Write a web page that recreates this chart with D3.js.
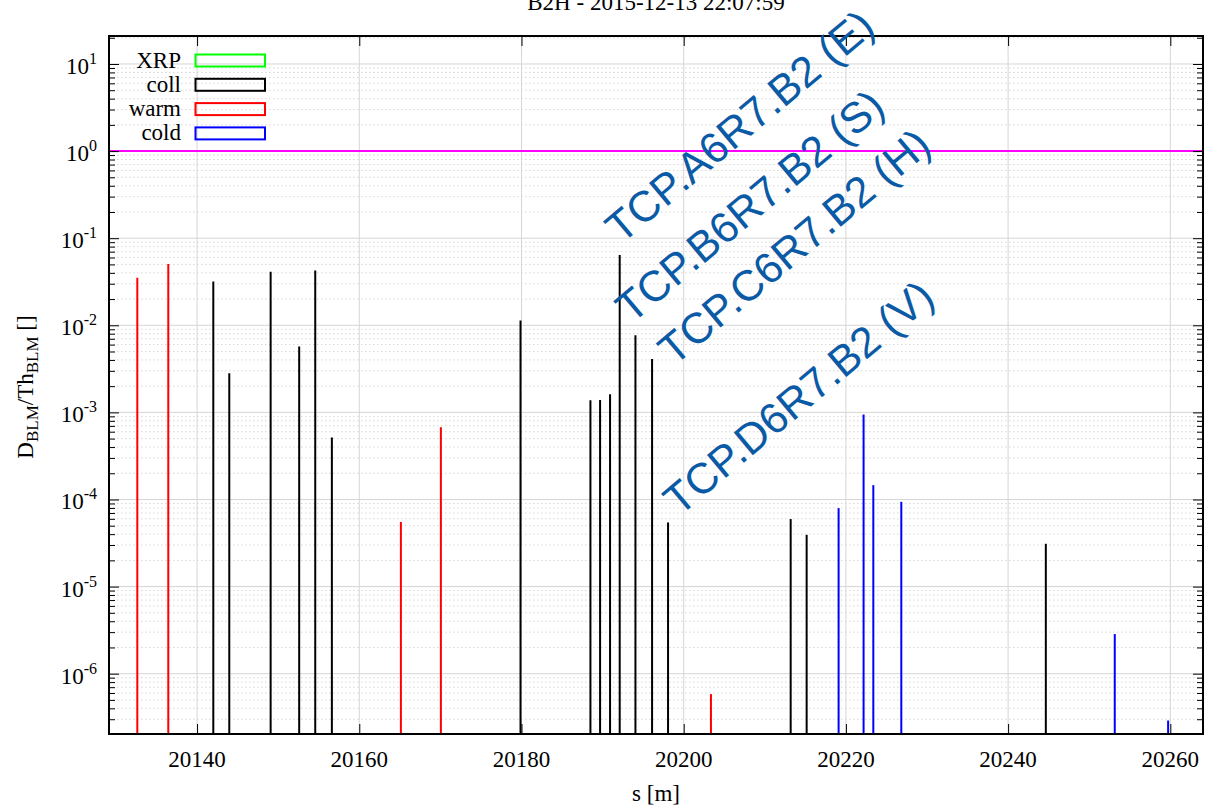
<!DOCTYPE html>
<html>
<head>
<meta charset="utf-8">
<script src="https://cdn.jsdelivr.net/npm/d3@7"></script>
<style>
  body { margin: 0; background: #fff; }
  svg { display: block; }
  .serif { font-family: "Liberation Serif", "DejaVu Serif", serif; }
  .axis path { display: none; }
  .axis line { stroke: #000; stroke-width: 1; }
</style>
</head>
<body>
<script>
// chart data
var title = "B2H - 2015-12-13 22:07:59";
var xTicks = [20140, 20160, 20180, 20200, 20220, 20240, 20260];
var yExponents = [-6, -5, -4, -3, -2, -1, 0, 1];
var threshold = 1;

var legendNames = ["XRP", "coll", "warm", "cold"];
var legendColors = ["#00ff00", "#000000", "#ff0000", "#0000ff"];

// s positions [m] and D/Th values for each BLM family
var xrpS = [];
var xrpV = [];
var collS = [20142.00, 20143.97, 20149.07, 20152.59, 20154.57, 20156.62, 20179.88, 20188.50, 20189.69,
             20190.92, 20192.11, 20194.05, 20196.10, 20198.07, 20213.19, 20215.16, 20244.65];
var collV = [0.0319, 0.00282, 0.0411, 0.00569, 0.0427, 0.000515, 0.01135, 0.00138, 0.00139,
             0.00162, 0.064, 0.0077, 0.00409, 5.45e-5, 5.96e-5, 3.93e-5, 3.10e-5];
var warmS = [20132.63, 20136.45, 20165.13, 20170.06, 20203.36];
var warmV = [0.0352, 0.0506, 5.52e-5, 6.73e-4, 5.83e-7];
var coldS = [20219.10, 20222.18, 20223.38, 20226.83, 20253.15, 20259.73];
var coldV = [7.96e-5, 9.46e-4, 1.46e-4, 9.4e-5, 2.85e-6, 2.9e-7];

// collimator annotations (anchor in data coordinates)
var labelText = ["TCP.A6R7.B2 (E)", "TCP.B6R7.B2 (S)", "TCP.C6R7.B2 (H)", "TCP.D6R7.B2 (V)"];
var labelS = [20192.3, 20193.55, 20198.8, 20199.45];
var labelV = [0.084, 0.0102, 0.00335, 6.3e-5];

// SVG area
var svgWidth = 1205;
var svgHeight = 805;
var margin = { top: 36, right: 2, bottom: 71, left: 109 };
var chartWidth = svgWidth - margin.left - margin.right;
var chartHeight = svgHeight - margin.top - margin.bottom;

var svg = d3.select("body")
  .append("svg")
  .attr("width", svgWidth)
  .attr("height", svgHeight);

var chartGroup = svg.append("g")
  .attr("transform", `translate(${margin.left}, ${margin.top})`);

var xScale = d3.scaleLinear()
  .domain([20129.14, 20264.03])
  .range([0, chartWidth]);

var yScale = d3.scaleLog()
  .domain([2.03e-7, 20.96])
  .range([chartHeight, 0])
  .clamp(true);

// minor log positions
var yMinor = [];
[-7].concat(yExponents).forEach(function(e) {
  for (var k = 2; k <= 9; k++) {
    var v = k * Math.pow(10, e);
    if (v >= yScale.domain()[0] && v <= yScale.domain()[1]) yMinor.push(v);
  }
});
var yMajor = yExponents.map(e => Math.pow(10, e));

// grid
chartGroup.append("g")
  .selectAll("line")
  .data(yMinor)
  .enter()
  .append("line")
  .attr("x1", 0).attr("x2", chartWidth)
  .attr("y1", d => yScale(d)).attr("y2", d => yScale(d))
  .attr("stroke", "#d6d6d6")
  .attr("stroke-dasharray", "1.5,2.5");

chartGroup.append("g")
  .selectAll("line")
  .data(yMajor)
  .enter()
  .append("line")
  .attr("x1", 0).attr("x2", chartWidth)
  .attr("y1", d => yScale(d)).attr("y2", d => yScale(d))
  .attr("stroke", "#d6d6d6");

chartGroup.append("g")
  .selectAll("line")
  .data(xTicks)
  .enter()
  .append("line")
  .attr("x1", d => xScale(d)).attr("x2", d => xScale(d))
  .attr("y1", 0).attr("y2", chartHeight)
  .attr("stroke", "#d6d6d6");

// threshold line
chartGroup.append("line")
  .attr("x1", 0).attr("x2", chartWidth)
  .attr("y1", yScale(threshold)).attr("y2", yScale(threshold))
  .attr("stroke", "#ff00ff")
  .attr("stroke-width", 2);

// impulses
var series = [
  { s: xrpS, v: xrpV, color: legendColors[0] },
  { s: collS, v: collV, color: legendColors[1] },
  { s: warmS, v: warmV, color: legendColors[2] },
  { s: coldS, v: coldV, color: legendColors[3] }
];
series.forEach(function(ser) {
  chartGroup.append("g")
    .selectAll("line")
    .data(ser.s.map((s, i) => ({ s: s, v: ser.v[i] })))
    .enter()
    .append("line")
    .attr("x1", d => xScale(d.s)).attr("x2", d => xScale(d.s))
    .attr("y1", chartHeight)
    .attr("y2", d => yScale(d.v))
    .attr("stroke", ser.color)
    .attr("stroke-width", 2);
});

// axes, ticks inward
chartGroup.append("g")
  .attr("class", "axis")
  .attr("transform", `translate(0, ${chartHeight})`)
  .call(d3.axisBottom(xScale).tickValues(xTicks).tickSize(-10).tickFormat(""));
chartGroup.append("g")
  .attr("class", "axis")
  .call(d3.axisTop(xScale).tickValues(xTicks).tickSize(-10).tickFormat(""));
chartGroup.append("g")
  .attr("class", "axis")
  .call(d3.axisLeft(yScale).tickValues(yMajor).tickSize(-10).tickFormat(""));
chartGroup.append("g")
  .attr("class", "axis")
  .call(d3.axisLeft(yScale).tickValues(yMinor).tickSize(-6).tickFormat(""));
chartGroup.append("g")
  .attr("class", "axis")
  .attr("transform", `translate(${chartWidth}, 0)`)
  .call(d3.axisRight(yScale).tickValues(yMajor).tickSize(-10).tickFormat(""));
chartGroup.append("g")
  .attr("class", "axis")
  .attr("transform", `translate(${chartWidth}, 0)`)
  .call(d3.axisRight(yScale).tickValues(yMinor).tickSize(-6).tickFormat(""));

// frame
chartGroup.append("rect")
  .attr("width", chartWidth)
  .attr("height", chartHeight)
  .attr("fill", "none")
  .attr("stroke", "#000")
  .attr("stroke-width", 2);

// x tick labels
chartGroup.append("g")
  .selectAll("text")
  .data(xTicks)
  .enter()
  .append("text")
  .attr("class", "serif")
  .attr("x", d => xScale(d))
  .attr("y", chartHeight + 33)
  .attr("text-anchor", "middle")
  .attr("font-size", 23)
  .text(d => d);

// y tick labels with superscripts
var yLab = chartGroup.append("g")
  .selectAll("text")
  .data(yExponents)
  .enter()
  .append("text")
  .attr("class", "serif")
  .attr("x", -12)
  .attr("y", d => yScale(Math.pow(10, d)) + 10)
  .attr("text-anchor", "end")
  .attr("font-size", 23);
yLab.append("tspan").text("10");
yLab.append("tspan")
  .attr("dy", -10)
  .attr("font-size", 16)
  .text(d => d);

// axis titles
svg.append("text")
  .attr("class", "serif")
  .attr("x", margin.left + chartWidth / 2)
  .attr("y", svgHeight - 4)
  .attr("text-anchor", "middle")
  .attr("font-size", 23)
  .text("s [m]");

var yTitle = svg.append("text")
  .attr("class", "serif")
  .attr("transform", `translate(33, ${margin.top + chartHeight / 2 + 2}) rotate(-90)`)
  .attr("text-anchor", "middle")
  .attr("font-size", 23);
yTitle.append("tspan").text("D");
yTitle.append("tspan").attr("dy", 5).attr("font-size", 17).text("BLM");
yTitle.append("tspan").attr("dy", -5).text("/Th");
yTitle.append("tspan").attr("dy", 5).attr("font-size", 17).text("BLM");
yTitle.append("tspan").attr("dy", -5).text(" []");

svg.append("text")
  .attr("class", "serif")
  .attr("x", margin.left + chartWidth / 2)
  .attr("y", 10)
  .attr("text-anchor", "middle")
  .attr("font-size", 23)
  .text(title);

// legend
var legend = chartGroup.append("g")
  .selectAll("g")
  .data(legendNames)
  .enter()
  .append("g")
  .attr("transform", (d, i) => `translate(0, ${24.5 + i * 24.3})`);
legend.append("text")
  .attr("class", "serif")
  .attr("x", 72)
  .attr("y", 7)
  .attr("text-anchor", "end")
  .attr("font-size", 23)
  .text(d => d);
legend.append("rect")
  .attr("x", 86.5)
  .attr("y", -6)
  .attr("width", 69.5)
  .attr("height", 12)
  .attr("fill", "none")
  .attr("stroke", (d, i) => legendColors[i])
  .attr("stroke-width", 2);

// annotations
chartGroup.append("g")
  .selectAll("text")
  .data(labelText)
  .enter()
  .append("text")
  .attr("transform", (d, i) => `translate(${xScale(labelS[i])}, ${yScale(labelV[i])}) rotate(-40)`)
  .attr("font-family", "'Liberation Sans', Arial, sans-serif")
  .attr("font-size", 43)
  .attr("fill", "#0a5aa5")
  .text(d => d);
</script>
</body>
</html>
